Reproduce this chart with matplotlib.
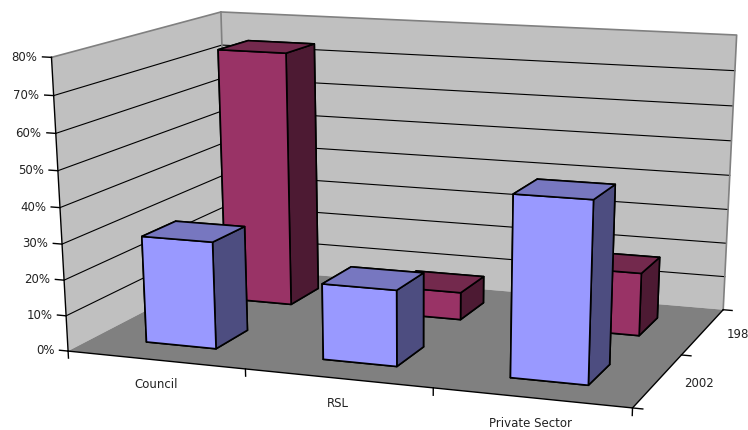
import numpy as np
import matplotlib
matplotlib.use('Agg')
import matplotlib.pyplot as plt
from mpl_toolkits.mplot3d.art3d import Poly3DCollection

# chart values
categories = ['Council', 'RSL', 'Private Sector']
series_names = ['2002', '198']
values_2002 = [0.30, 0.21, 0.49]
values_back = [0.74, 0.08, 0.18]
pct_ticks = [0, 10, 20, 30, 40, 50, 60, 70, 80]

WIDTH, HEIGHT = 748, 431
ZMAX = pct_ticks[-1] / 100
NX, NY = len(categories), len(series_names)

# camera: box corners (x, y, z) and where they land in image pixels
corners = [
    ((0, 0, 0), (67.7, 351.7)),
    ((0, 0, ZMAX), (51.7, 58.7)),
    ((0, NY, ZMAX), (220.7, 12.7)),
    ((0, NY, 0), (229.0, 269.0)),
    ((NX, NY, ZMAX), (736.7, 36.0)),
    ((NX, NY, 0), (723.0, 310.7)),
    ((NX, 0, 0), (632.7, 409.0)),
]


def fit_camera(pairs):
    # direct linear transform, last matrix entry fixed to 1
    rows, rhs = [], []
    for (x, y, z), (u, v) in pairs:
        rows.append([x, y, z, 1, 0, 0, 0, 0, -u * x, -u * y, -u * z])
        rows.append([0, 0, 0, 0, x, y, z, 1, -v * x, -v * y, -v * z])
        rhs += [u, v]
    sol = np.linalg.lstsq(np.array(rows, float), np.array(rhs, float), rcond=None)[0]
    return np.append(sol, 1).reshape(3, 4)


camera = fit_camera(corners)

fig = plt.figure(figsize=(WIDTH / 100, HEIGHT / 100), dpi=100)
ax = fig.add_axes([0, 0, 1, 1], projection='3d', computed_zorder=False)
ax.set_axis_off()
# keep the axes the full size of the figure instead of a centred square
ax.apply_aspect = lambda position=None: None


def get_proj():
    # image pixels -> display -> the 2d coordinates the 3d artists draw in
    flip = np.array([[1, 0, 0], [0, -1, HEIGHT], [0, 0, 1]], float)
    p = ax.transData.inverted().get_matrix() @ flip @ camera
    # larger means further away, orders the faces of a bar; has to stay negative or lines get clipped
    depth = [-0.3, 0.5, -3.0, -1.1]
    return np.array([p[0], p[1], depth, p[2]])


ax.get_proj = get_proj


def label(x, y, z, text, **kwargs):
    # labels sit in figure space at the projected position of their anchor
    u, v, w = camera @ [x, y, z, 1]
    fig.text(u / w / WIDTH, 1 - v / w / HEIGHT, text, va='center', fontsize=8.5, color='#222222', **kwargs)


# walls and floor
wall_color = '#c0c0c0'
left_wall = [(0, 0, 0), (0, NY, 0), (0, NY, ZMAX), (0, 0, ZMAX)]
back_wall = [(0, NY, 0), (NX, NY, 0), (NX, NY, ZMAX), (0, NY, ZMAX)]
floor = [(0, 0, 0), (NX, 0, 0), (NX, NY, 0), (0, NY, 0)]
ax.add_collection3d(Poly3DCollection([left_wall, back_wall], facecolors=wall_color,
                                     edgecolors='none', zorder=1))
ax.add_collection3d(Poly3DCollection([floor], facecolors='#808080', edgecolors='none', zorder=1))

# gridlines run along the left wall and then the back wall
for pct in pct_ticks[1:-1]:
    z = pct / 100
    ax.plot([0, 0, NX], [0, NY, NY], [z, z, z], color='black', lw=0.8, zorder=3)

# wall outline
ax.plot([0, 0, NX, NX], [0, NY, NY, NY], [ZMAX, ZMAX, ZMAX, 0], color='#808080', lw=1.2, zorder=3)
ax.plot([0, 0], [NY, NY], [0, ZMAX], color='#808080', lw=1.2, zorder=3)

# axis lines, ticks and labels
ax.plot([0, 0], [0, 0], [0, ZMAX], color='black', lw=1.0, zorder=3.5)
ax.plot([0, NX, NX], [0, 0, NY], [0, 0, 0], color='black', lw=1.0, zorder=3.5)
for pct in pct_ticks:
    z = pct / 100
    ax.plot([-0.05, 0], [0, 0], [z, z], color='black', lw=1.0, zorder=3.5)
    label(-0.08, 0, z, f'{pct}%', ha='right')
for i in range(NX + 1):
    ax.plot([i, i], [0, 0], [0, -0.02], color='black', lw=1.0, zorder=3.5)
for j in range(NY + 1):
    ax.plot([NX, NX + 0.05], [j, j], [0, 0], color='black', lw=1.0, zorder=3.5)
for i, name in enumerate(categories):
    label(i + 0.5, 0, -0.067, name, ha='center')
for j, name in enumerate(series_names):
    label(NX + 0.13, j + 0.5, 0, name, ha='left')

# face order for bar3d: bottom, top, front, back, left, right
blue_faces = ['#7777c0', '#7777c0', '#9999ff', '#9999ff', '#4d4d80', '#4d4d80']
crimson_faces = ['#73294d', '#73294d', '#993366', '#993366', '#4d1a33', '#4d1a33']

# back row first so the front row paints over it
for j, (vals, faces) in reversed(list(enumerate([(values_2002, blue_faces), (values_back, crimson_faces)]))):
    for i, val in enumerate(vals):
        ax.bar3d(i + 0.3, j + 0.3, 0, 0.4, 0.4, val, color=faces, shade=False,
                 edgecolor='black', linewidth=1.2, zorder=4 + (1 - j))

fig.savefig('out.png', dpi=100)
plt.close(fig)
